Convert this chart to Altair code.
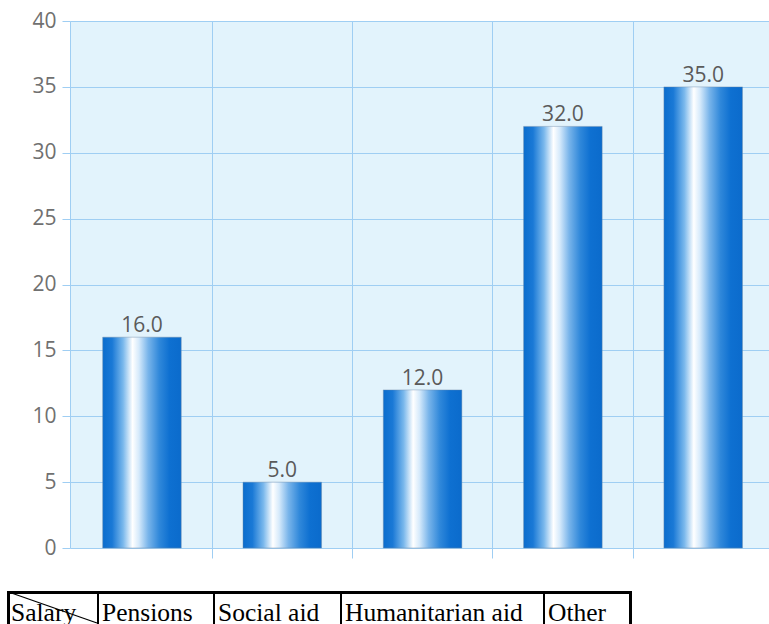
import altair as alt
import pandas as pd

# Income sources and their shares
categories = ["Salary", "Pensions", "Social aid", "Humanitarian aid", "Other"]
values = [16.0, 5.0, 12.0, 32.0, 35.0]
y_ticks = [0, 5, 10, 15, 20, 25, 30, 35, 40]

# Layout of the label table under the chart (pixels from the plot origin)
col_edges = [-63, 28, 144, 271, 474, 560.5]
table_top, table_bottom, text_base = 571.5, 610, 600

W, H = 699, 527
GRID = "#9fcef3"

df = pd.DataFrame({"category": categories, "value": values})
one_row = pd.DataFrame({"k": [0]})

bar_fill = alt.Gradient(
    gradient="linear", x1=0, x2=1, y1=0, y2=0,
    stops=[
        alt.GradientStop(offset=0.0, color="#0b6dcd"),
        alt.GradientStop(offset=0.12, color="#1a79d6"),
        alt.GradientStop(offset=0.26, color="#7ab8ec"),
        alt.GradientStop(offset=0.38, color="#ffffff"),
        alt.GradientStop(offset=0.46, color="#d6eafb"),
        alt.GradientStop(offset=0.58, color="#78b4ea"),
        alt.GradientStop(offset=0.72, color="#3088da"),
        alt.GradientStop(offset=0.85, color="#0e70d1"),
        alt.GradientStop(offset=1.0, color="#0b6bcc"),
    ],
)

x_enc = alt.X(
    "category:N", sort=categories,
    scale=alt.Scale(paddingInner=0.44, paddingOuter=0.211, align=0.552),
    axis=alt.Axis(title=None, labels=False, domain=False, ticks=True,
                  tickColor=GRID, tickSize=10, grid=True, gridColor=GRID,
                  gridWidth=1, bandPosition=1.394),
)
y_enc = alt.Y(
    "value:Q", scale=alt.Scale(domain=[0, 40], nice=False),
    axis=alt.Axis(values=y_ticks, title=None, labelFont="Open Sans",
                  labelFontSize=21, labelColor="#707070", tickColor=GRID,
                  tickSize=8, labelPadding=6, gridColor=GRID,
                  domainColor=GRID),
)

bars = alt.Chart(df).mark_bar(
    color=bar_fill, stroke="#6f8aa6", strokeWidth=0.6, strokeOpacity=0.7
).encode(x=x_enc, y=y_enc)

labels = alt.Chart(df).mark_text(
    font="Open Sans", fontSize=21, color="#5a5a5a", dy=-5,
    baseline="alphabetic",
).encode(x=alt.X("category:N", sort=categories), y="value:Q",
         text=alt.Text("value:Q", format=".1f"))

layers = [bars, labels]


def rule(x0, y0, x1, y1, w):
    return alt.Chart(one_row).mark_rule(color="black", strokeWidth=w).encode(
        x=alt.value(x0), y=alt.value(y0), x2=alt.value(x1), y2=alt.value(y1)
    )


# table frame and cell dividers
layers.append(rule(col_edges[0], table_top, col_edges[-1] + 1.5, table_top, 3))
layers.append(rule(col_edges[0] + 1.5, table_top, col_edges[0] + 1.5, table_bottom, 3))
layers.append(rule(col_edges[-1], table_top, col_edges[-1], table_bottom, 3))
for e in col_edges[1:-1]:
    layers.append(rule(e, table_top, e, table_bottom, 2))
# diagonal stroke across the first cell
layers.append(rule(col_edges[0] + 3, table_top, col_edges[1] - 1, 602, 1.3))

# category names in the table cells
for name, e in zip(categories, col_edges[:-1]):
    layers.append(
        alt.Chart(one_row).mark_text(
            text=name, font="Liberation Serif", fontSize=25.5, color="black",
            align="left", baseline="alphabetic",
        ).encode(x=alt.value(e + 4), y=alt.value(text_base))
    )

chart = alt.layer(*layers).properties(
    width=W, height=H,
    autosize=alt.AutoSizeParams(type="none"),
    padding={"left": 70, "top": 21, "right": 0, "bottom": 76},
    background="white",
).configure_view(fill="#e2f3fc", strokeWidth=0)

chart.save("out.html", embed_options={"renderer": "svg", "actions": False})
